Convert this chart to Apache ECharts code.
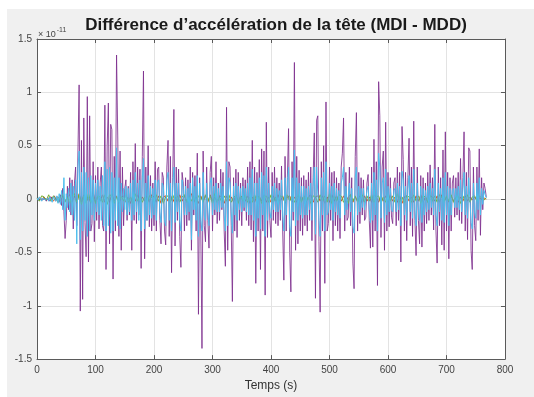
<!DOCTYPE html>
<html>
<head>
<meta charset="utf-8">
<script src="https://cdn.jsdelivr.net/npm/echarts@6/dist/echarts.min.js"></script>
<style>
  html, body { margin: 0; padding: 0; background: #ffffff; }
  #chart { width: 534px; height: 397px; }
</style>
</head>
<body>
<div id="chart"></div>
<script>
// Head acceleration difference (MDI - MDD), values in units of 1e-11
const titleText = 'Différence d’accélération de la tête (MDI - MDD)';
const xLabel = 'Temps (s)';
const xTicks = [0, 100, 200, 300, 400, 500, 600, 700, 800];
const yTicks = [-1.5, -1, -0.5, 0, 0.5, 1, 1.5];

// sampling periods (s)
const stepMain = 2;
const stepSmall = 4;

// purple channel, one value every 2 s from t = 0
const purple = [
  0, 0.01, -0.01, 0.01, 0.02, -0.01, 0.01, 0, -0.02, 0.01,
  0.01, -0.02, 0.02, 0, -0.01, 0.03, -0.02, 0.01, 0.02, -0.03,
  0.04, -0.06, 0.1, -0.12, -0.37, -0.2, 0.12, -0.1, 0.2, -0.15,
  0.18, -0.28, 0.15, 0.3, -0.25, 0.45, 1.07, -1.05, 0.55, -0.94,
  0.76, -0.22, -0.54, 0.96, -0.59, 0.78, -0.3, -0.23, 0.35, -0.4,
  0.22, -0.2, 0.3, -0.28, 0.15, 0.3, -0.25, -0.3, 0.88, -0.66,
  0.5, 0.9, -0.42, 0.7, 0.65, -0.75, 0.4, -0.3, 1.35, 0.6,
  -0.35, 0.45, -0.48, 0.3, -0.25, 0.1, 0.18, -0.2, 0.12, -0.15,
  0.25, -0.48, 0.35, -0.2, 0.52, -0.23, 0.3, -0.15, 0.28, -0.65,
  0.4, 1.2, -0.56, 0.3, -0.2, 0.5, -0.26, 0.22, -0.3, 0.15,
  -0.25, 0.35, -0.3, 0.28, 0.3, -0.2, -0.42, 0.25, 0.2, -0.3,
  -0.43, 0.3, 0.55, -0.35, 0.4, -0.69, 0.2, 0.84, -0.44, 0.3,
  -0.2, 0.28, -0.35, -0.64, 0.25, 0.15, -0.3, 0.2, -0.25, 0.18,
  -0.2, 0.3, -0.48, 0.25, -0.15, 0.22, -0.3, 0.43, -1.08, 0.2,
  -0.3, -1.4, 0.45, -0.25, -0.4, 0.3, -0.2, -0.46, 0.25, 0.4,
  -0.3, 0.2, -0.15, 0.35, -0.23, 0.15, -0.2, 0.28, -0.1, 0.25,
  -0.3, -0.63, 0.86, -0.48, 0.35, 0.3, -0.25, -0.96, 0.2, -0.3,
  0.28, -0.36, 0.25, -0.2, 0.15, -0.25, 0.2, -0.11, 0.18, -0.2,
  0.3, -0.25, 0.35, -0.29, 0.55, -0.4, 0.3, -0.79, 0.25, -0.3,
  0.37, -0.66, 0.47, -0.3, 0.45, -0.9, 0.72, -0.36, 0.3, -0.2,
  -0.36, 0.25, -0.2, 0.3, -0.23, 0.2, -0.25, 0.15, -0.2, 0.31,
  -0.3, -0.76, 0.4, -0.3, 0.2, 0.66, -0.5, -0.87, 0.35, -0.2,
  1.28, -0.48, 0.4, -0.42, 0.27, -0.3, 0.2, -0.34, 0.22, -0.25,
  0.18, -0.3, 0.25, -0.2, 0.3, -0.39, 0.2, 0.62, -0.93, 0.74,
  0.78, -0.4, -1.06, 0.35, -0.3, 0.5, -0.79, 0.91, -0.3, -0.23,
  0.3, -0.2, 0.25, -0.39, 0.26, -0.25, 0.2, -0.3, 0.15, -0.37,
  0.3, 0.43, 0.76, -0.3, 0.25, -0.2, -0.17, 0.3, -0.25, 0.2,
  -0.6, -0.84, 0.4, 0.81, -0.3, 0.25, -0.23, 0.2, -0.15, 0.18,
  -0.2, -0.17, 0.15, 0.23, -0.2, -0.46, 0.3, -0.45, 0.56, -0.3,
  0.35, -0.81, 1.1, 0.78, -0.36, 0.3, 0.45, -0.48, 0.72, -0.3,
  0.25, -0.26, 0.2, -0.17, -0.23, 0.15, 0.2, -0.25, 0.3, -0.2,
  0.25, -0.59, 0.68, 0.37, -0.3, 0.25, -0.39, 0.2, 0.57, -0.25,
  0.3, -0.35, 0.73, -0.2, -0.53, 0.3, -0.2, -0.42, 0.22, -0.45,
  0.2, -0.3, 0.15, -0.23, 0.25, -0.2, 0.32, -0.15, 0.2, -0.29,
  0.7, -0.3, -0.6, 0.3, -0.25, 0.2, -0.43, 0.46, -0.48, 0.63,
  -0.3, 0.25, -0.56, 0.2, -0.3, 0.15, 0.22, -0.17, 0.2, -0.15,
  0.25, -0.2, 0.38, -0.23, 0.2, 0.63, -0.3, 0.25, -0.38, 0.48,
  0.45, -0.48, -0.66, 0.3, -0.25, -0.39, 0.3, -0.2, 0.47, -0.34,
  0.2, -0.1, 0.15, 0.1, 0.02
];

// light blue channel, one value every 2 s from t = 0
const lightBlue = [
  0.01, -0.01, 0.02, 0, -0.02, 0.01, 0.02, -0.01, 0, 0.01,
  -0.02, 0.02, 0.01, -0.03, 0.02, 0, -0.02, 0.03, -0.04, 0.05,
  -0.05, 0.08, -0.1, 0.2, -0.2, 0.05, -0.08, 0.1, -0.12, 0.15,
  -0.15, 0.12, -0.2, 0.18, -0.42, 0.3, 0.45, -0.38, 0.25, -0.3,
  0.3, -0.2, 0.25, -0.35, 0.2, -0.3, 0.22, -0.15, 0.18, -0.2,
  0.15, -0.12, 0.18, -0.15, 0.12, -0.2, 0.22, -0.25, 0.35, -0.3,
  0.28, -0.25, 0.3, -0.32, 0.25, -0.3, 0.2, -0.2, 0.48, -0.25,
  0.2, -0.28, 0.15, -0.12, 0.1, -0.1, 0.12, -0.15, 0.1, -0.12,
  0.15, -0.2, 0.18, -0.15, 0.25, -0.12, 0.15, -0.2, 0.18, -0.3,
  0.2, 0.38, -0.28, 0.15, -0.2, 0.22, -0.15, 0.12, -0.18, 0.1,
  -0.15, 0.18, -0.2, 0.15, 0.18, -0.12, -0.22, 0.15, 0.12, -0.2,
  -0.25, 0.18, 0.25, -0.2, 0.15, -0.3, 0.12, 0.3, -0.22, 0.15,
  -0.12, 0.15, -0.2, -0.3, 0.18, 0.1, -0.15, 0.12, -0.15, 0.1,
  -0.12, 0.15, -0.38, 0.2, -0.1, 0.12, -0.2, 0.22, -0.35, 0.15,
  -0.2, -0.3, 0.25, -0.15, -0.2, 0.15, -0.12, -0.25, 0.15, 0.2,
  -0.15, 0.12, -0.1, 0.15, -0.12, 0.1, -0.12, 0.15, -0.08, 0.12,
  -0.15, -0.3, 0.35, -0.25, 0.2, 0.15, -0.12, -0.32, 0.12, -0.15,
  0.15, -0.2, 0.12, -0.1, 0.1, -0.12, 0.12, -0.08, 0.1, -0.12,
  0.15, -0.15, 0.2, -0.15, 0.28, -0.2, 0.15, -0.35, 0.15, -0.18,
  0.2, -0.28, 0.25, -0.15, 0.22, -0.35, 0.3, -0.2, 0.15, -0.12,
  -0.18, 0.12, -0.1, 0.15, -0.12, 0.1, -0.12, 0.08, -0.1, 0.18,
  -0.15, -0.3, 0.2, -0.15, 0.12, 0.3, -0.25, -0.35, 0.2, -0.12,
  0.46, -0.25, 0.2, -0.2, 0.15, -0.15, 0.12, -0.18, 0.12, -0.15,
  0.1, -0.15, 0.12, -0.1, 0.15, -0.2, 0.12, 0.3, -0.33, 0.3,
  0.3, -0.2, -0.35, 0.2, -0.15, 0.25, -0.3, 0.35, -0.15, -0.12,
  0.15, -0.1, 0.12, -0.2, 0.15, -0.12, 0.1, -0.15, 0.08, -0.18,
  0.15, 0.2, 0.3, -0.15, 0.12, -0.1, -0.1, 0.15, -0.12, 0.1,
  -0.25, -0.32, 0.2, 0.3, -0.15, 0.12, -0.12, 0.1, -0.08, 0.1,
  -0.1, -0.1, 0.08, 0.12, -0.1, -0.22, 0.15, -0.2, 0.25, -0.15,
  0.18, -0.3, 0.43, 0.3, -0.18, 0.15, 0.2, -0.22, 0.28, -0.15,
  0.12, -0.12, 0.1, -0.1, -0.12, 0.08, 0.1, -0.12, 0.15, -0.1,
  0.12, -0.25, 0.26, 0.18, -0.15, 0.12, -0.2, 0.1, 0.22, -0.12,
  0.15, -0.18, 0.28, -0.1, -0.25, 0.15, -0.1, -0.2, 0.12, -0.22,
  0.1, -0.15, 0.08, -0.12, 0.12, -0.1, 0.15, -0.08, 0.1, -0.15,
  0.28, -0.15, -0.25, 0.15, -0.12, 0.1, -0.2, 0.2, -0.22, 0.25,
  -0.15, 0.12, -0.25, 0.1, -0.15, 0.08, 0.1, -0.08, 0.1, -0.08,
  0.12, -0.1, 0.18, -0.12, 0.1, 0.25, -0.15, 0.12, -0.18, 0.2,
  0.2, -0.22, -0.28, 0.15, -0.12, -0.18, 0.15, -0.1, 0.2, -0.15,
  0.1, -0.05, 0.08, 0.04, 0.01
];

// green channel, one value every 4 s from t = 0
const green = [
  0.01, -0.02, 0.03, 0.02, -0.01, 0.04, -0.02, 0.03, 0.01, -0.03,
  0.02, 0.04, -0.03, 0.02, -0.04, 0.03, 0.05, -0.03, 0.04, -0.05,
  0.03, -0.04, 0.05, -0.03, 0.02, -0.04, 0.03, 0.02, -0.03, 0.04,
  -0.05, 0.04, 0.03, -0.04, 0.02, -0.03, 0.03, -0.02, 0.04, -0.03,
  0.02, -0.04, 0.05, -0.02, 0.03, -0.03, 0.02, -0.04, 0.03, 0.02,
  -0.03, 0.04, -0.02, 0.03, -0.04, 0.02, 0.03, -0.03, 0.04, -0.02,
  0.03, -0.03, 0.02, 0.04, -0.03, 0.02, -0.02, 0.03, -0.04, 0.03,
  0.02, -0.03, 0.04, -0.02, 0.03, -0.04, 0.05, -0.03, 0.02, -0.03,
  0.03, -0.02, 0.04, -0.03, 0.02, 0.03, -0.04, 0.03, -0.02, 0.04,
  -0.03, 0.02, -0.03, 0.04, -0.02, 0.03, -0.04, 0.02, 0.03, -0.03,
  0.04, -0.03, 0.02, -0.04, 0.03, 0.02, -0.03, 0.04, -0.02, 0.03,
  -0.03, 0.02, 0.04, -0.03, 0.03, -0.02, 0.02, -0.04, 0.03, 0.02,
  -0.03, 0.04, -0.02, 0.03, -0.03, 0.05, -0.04, 0.03, -0.02, 0.04,
  0.03, -0.03, 0.02, -0.04, 0.04, -0.02, 0.03, -0.03, 0.02, 0.04,
  -0.03, 0.03, -0.02, 0.04, -0.03, 0.02, 0.03, -0.04, 0.02, -0.03,
  0.04, -0.02, 0.03, -0.03, 0.05, -0.03, 0.02, -0.04, 0.03, 0.02,
  -0.03, 0.04, -0.02, 0.03, -0.04, 0.03, 0.02, -0.03, 0.04, -0.02,
  0.03, -0.03, 0.04, 0.02, -0.03, 0.03, -0.02, 0.04, -0.03, 0.02,
  0.03, -0.04, 0.03, -0.02, 0.04, -0.03, 0.02, 0.03, -0.02, 0.03,
  0.01, -0.01, 0.01
];

// orange channel, one value every 4 s from t = 0
const orange = [
  0, 0.01, -0.01, 0.02, -0.01, 0.01, 0.02, -0.02, 0.01, 0.02,
  -0.02, 0.03, -0.02, 0.02, 0.04, -0.03, 0.03, -0.04, 0.05, -0.03,
  0.04, -0.03, 0.02, -0.04, 0.06, -0.03, 0.03, -0.02, 0.04, -0.03,
  0.02, -0.03, 0.05, -0.02, 0.03, -0.04, 0.02, 0.03, -0.03, 0.02,
  -0.04, 0.03, -0.02, 0.04, -0.03, 0.02, -0.02, 0.03, -0.03, 0.04,
  0.02, -0.03, 0.03, -0.04, 0.02, 0.03, -0.02, 0.04, -0.03, 0.02,
  -0.03, 0.04, -0.02, 0.03, -0.03, 0.02, 0.05, -0.03, 0.02, -0.04,
  0.03, -0.02, 0.03, -0.03, 0.04, -0.02, 0.02, -0.03, 0.03, 0.02,
  -0.04, 0.03, -0.02, 0.02, -0.03, 0.04, -0.03, 0.02, 0.03, -0.02,
  0.03, -0.04, 0.02, -0.03, 0.03, 0.02, -0.02, 0.04, -0.03, 0.02,
  -0.03, 0.03, -0.02, 0.04, -0.02, 0.03, -0.04, 0.02, 0.03, -0.03,
  0.02, -0.03, 0.04, -0.02, 0.03, -0.03, 0.02, 0.04, -0.03, 0.02,
  0.03, -0.02, 0.03, -0.04, 0.02, -0.03, 0.04, -0.02, 0.03, -0.03,
  -0.02, 0.03, -0.03, 0.02, 0.04, -0.03, 0.02, -0.02, 0.03, -0.04,
  0.03, -0.02, 0.02, -0.03, 0.04, 0.02, -0.03, 0.03, -0.02, 0.03,
  -0.03, 0.04, -0.02, 0.02, -0.03, 0.03, -0.04, 0.02, 0.03, -0.02,
  0.02, -0.03, 0.03, -0.02, 0.04, -0.03, 0.02, -0.03, 0.03, 0.02,
  -0.02, 0.03, -0.03, 0.04, -0.02, 0.02, -0.03, 0.03, -0.02, 0.02,
  -0.03, 0.02, -0.02, 0.03, -0.02, 0.02, -0.01, 0.02, -0.01, 0.01,
  0, 0.01, 0
];

function toPairs(vals, step) {
  return vals.map(function (v, i) { return [i * step, v]; });
}

const FONT = '"Liberation Sans", Arial, Helvetica, sans-serif';
const AXIS_COL = '#5a5a5a';
const GRID_COL = '#e3e3e3';

const chart = echarts.init(document.getElementById('chart'), null, { renderer: 'canvas' });

function lineSeries(name, vals, step, color, opacity, z) {
  return {
    name: name,
    type: 'line',
    data: toPairs(vals, step),
    showSymbol: false,
    symbol: 'none',
    animation: false,
    silent: true,
    z: z,
    lineStyle: { color: color, width: 1, opacity: opacity },
    itemStyle: { color: color }
  };
}

// box edges on the top and right sides, ticks pointing inwards
const boxAxisCommon = {
  axisLabel: { show: false },
  splitLine: { show: false },
  axisLine: { show: true, onZero: false, lineStyle: { color: AXIS_COL, width: 1 } },
  axisTick: { show: true, inside: true, length: 4, lineStyle: { color: AXIS_COL } }
};

const option = {
  backgroundColor: '#ffffff',
  animation: false,
  title: {
    text: titleText,
    left: 271,
    textAlign: 'center',
    top: 12,
    textStyle: { fontFamily: FONT, fontSize: 17, fontWeight: 'bold', color: '#1a1a1a' }
  },
  graphic: [
    {
      type: 'rect', z: -10, silent: true,
      shape: { x: 7, y: 9, width: 527, height: 388 },
      style: { fill: '#f0f0f0' }
    },
    {
      type: 'text', silent: true,
      left: 38, top: 27,
      style: {
        text: '{a|× 10}{b|-11}',
        rich: {
          a: { fontFamily: FONT, fontSize: 9, fill: '#444', verticalAlign: 'bottom', lineHeight: 12 },
          b: { fontFamily: FONT, fontSize: 7, fill: '#444', verticalAlign: 'top', lineHeight: 12, padding: [0, 0, 4, 1] }
        }
      }
    }
  ],
  grid: {
    left: 37, right: 29, top: 39, bottom: 33,
    show: true, backgroundColor: '#ffffff', borderColor: AXIS_COL, borderWidth: 0
  },
  xAxis: [
    {
      type: 'value', min: xTicks[0], max: xTicks[xTicks.length - 1], interval: 100,
      position: 'bottom',
      name: xLabel, nameLocation: 'middle', nameGap: 16,
      nameTextStyle: { fontFamily: FONT, fontSize: 12, color: '#333' },
      axisLine: { show: true, onZero: false, lineStyle: { color: AXIS_COL, width: 1 } },
      axisTick: { show: true, inside: true, length: 4, lineStyle: { color: AXIS_COL } },
      axisLabel: { fontFamily: FONT, fontSize: 10, color: '#444', margin: 6 },
      splitLine: { show: true, lineStyle: { color: GRID_COL, width: 1 } }
    },
    Object.assign({
      type: 'value', min: xTicks[0], max: xTicks[xTicks.length - 1], interval: 100,
      position: 'top'
    }, boxAxisCommon)
  ],
  yAxis: [
    {
      type: 'value', min: yTicks[0], max: yTicks[yTicks.length - 1], interval: 0.5,
      position: 'left',
      axisLine: { show: true, onZero: false, lineStyle: { color: AXIS_COL, width: 1 } },
      axisTick: { show: true, inside: true, length: 4, lineStyle: { color: AXIS_COL } },
      axisLabel: { fontFamily: FONT, fontSize: 10, color: '#444', margin: 5 },
      splitLine: { show: true, lineStyle: { color: GRID_COL, width: 1 } }
    },
    Object.assign({
      type: 'value', min: yTicks[0], max: yTicks[yTicks.length - 1], interval: 0.5,
      position: 'right'
    }, boxAxisCommon)
  ],
  series: [
    lineSeries('orange', orange, stepSmall, '#D95319', 1, 2),
    lineSeries('purple', purple, stepMain, '#7E2F8E', 0.85, 3),
    lineSeries('green', green, stepSmall, '#77AC30', 1, 4),
    lineSeries('lightBlue', lightBlue, stepMain, '#4DBEEE', 1, 5)
  ]
};

chart.setOption(option);
</script>
</body>
</html>
